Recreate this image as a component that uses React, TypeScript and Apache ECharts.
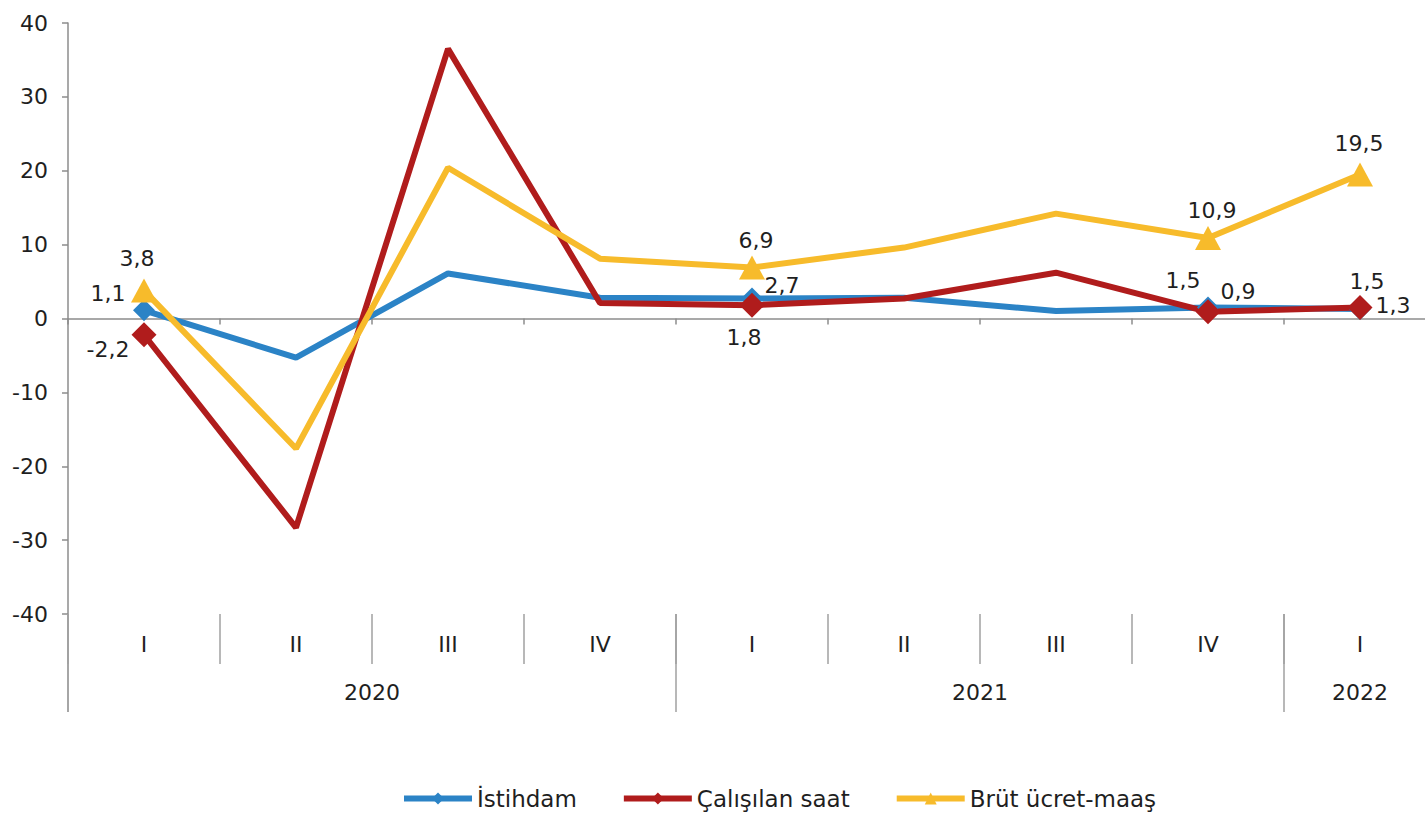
import React, { useEffect, useRef } from "react";
import * as echarts from "echarts";

const quarters = ["I", "II", "III", "IV", "I", "II", "III", "IV", "I"];
const yearLabels = ["2020", "2021", "2022"];
const yearCenters = [2, 6, 8.5];
const yearBounds = [0, 4, 8, 9];
const yTicks = { min: -40, max: 40, step: 10 };

const istihdam = [1.1, -5.3, 6.1, 2.8, 2.7, 2.8, 1.0, 1.5, 1.3];
const calisilanSaat = [-2.2, -28.3, 36.5, 2.1, 1.8, 2.7, 6.2, 0.9, 1.5];
const brutUcret = [3.8, -17.6, 20.4, 8.1, 6.9, 9.6, 14.2, 10.9, 19.5];

const labeledIdx = [0, 4, 7, 8];

const FONT = "DejaVu Sans";
const TXT = "#1f1f1f";

function buildData(values: number[], offsets: Record<number, [number, number]>, symbol: string, size: number | number[]) {
  return values.map((v, i) => {
    if (!labeledIdx.includes(i)) return { value: v, symbol: "none" };
    return {
      value: v,
      symbol,
      symbolSize: size,
      label: {
        show: true,
        position: "inside",
        offset: offsets[i],
        align: "center",
        verticalAlign: "middle",
        formatter: (p: any) => String(p.value).replace(".", ","),
        fontFamily: FONT,
        fontSize: 22,
        color: TXT,
      },
    };
  });
}

export default function App() {
  const ref = useRef<HTMLDivElement>(null);
  useEffect(() => {
    if (!ref.current) return;
    const chart = echarts.init(ref.current, undefined, { renderer: "svg" });
    const axisGrey = "#8c8c8c";
    chart.setOption({
      animation: false,
      backgroundColor: "#ffffff",
      grid: { left: 68, top: 23, width: 1368, height: 591, containLabel: false },
      legend: {
        left: 396,
        top: 782,
        itemWidth: 68,
        itemHeight: 15,
        itemGap: 44,
        lineStyle: { width: 6 },
        textStyle: { fontFamily: FONT, fontSize: 23, color: TXT },
        data: ["İstihdam", "Çalışılan saat", "Brüt ücret-maaş"],
      },
      xAxis: [
        {
          type: "category",
          data: quarters,
          boundaryGap: true,
          axisLine: { onZero: true, lineStyle: { color: axisGrey, width: 1.5 } },
          axisTick: { show: true, length: 6, lineStyle: { color: axisGrey, width: 1.5 } },
          axisLabel: { show: false },
        },
        {
          type: "category",
          data: quarters,
          position: "bottom",
          boundaryGap: true,
          axisLine: { show: false, onZero: false },
          axisTick: { show: true, length: 50, lineStyle: { color: "#a0a0a0", width: 1.5 } },
          axisLabel: { margin: 19, fontFamily: FONT, fontSize: 22, color: TXT },
        },
        {
          type: "value",
          min: 0,
          max: 9,
          position: "bottom",
          axisLine: { show: false, onZero: false },
          splitLine: { show: false },
          axisTick: { show: true, customValues: yearBounds, length: 98, lineStyle: { color: "#a0a0a0", width: 1.5 } },
          axisLabel: {
            customValues: yearCenters,
            margin: 67,
            fontFamily: FONT,
            fontSize: 22,
            color: TXT,
            formatter: (v: number) => {
              const k = yearCenters.indexOf(v);
              return k >= 0 ? yearLabels[k] : "";
            },
          },
        },
      ],
      yAxis: {
        type: "value",
        min: yTicks.min,
        max: yTicks.max,
        interval: yTicks.step,
        axisLine: { show: true, lineStyle: { color: axisGrey, width: 1.5 } },
        axisTick: { show: true, length: 6, lineStyle: { color: axisGrey, width: 1.5 } },
        splitLine: { show: false },
        axisLabel: { margin: 20, fontFamily: FONT, fontSize: 22, color: TXT },
      },
      graphic: [
        {
          type: "line",
          shape: { x1: 68, y1: 614, x2: 68, y2: 712 },
          style: { stroke: "#a0a0a0", lineWidth: 1.5 },
        },
      ],
      series: [
        {
          name: "İstihdam",
          type: "line",
          xAxisIndex: 0,
          color: "#2b83c6",
          lineStyle: { width: 6, color: "#2b83c6" },
          itemStyle: { color: "#2b83c6" },
          symbol: "diamond",
          symbolSize: 22,
          data: buildData(istihdam, { 0: [-36, -17], 4: [30, -13], 7: [-25, -27], 8: [33, -3] }, "diamond", [22, 22]),
        },
        {
          name: "Çalışılan saat",
          type: "line",
          xAxisIndex: 0,
          color: "#b01c1c",
          lineStyle: { width: 6, color: "#b01c1c" },
          itemStyle: { color: "#b01c1c" },
          symbol: "diamond",
          symbolSize: 24,
          data: buildData(calisilanSaat, { 0: [-36, 15], 4: [-8, 32], 7: [30, -20], 8: [7, -26] }, "diamond", [25, 25]),
        },
        {
          name: "Brüt ücret-maaş",
          type: "line",
          xAxisIndex: 0,
          color: "#f7bb2b",
          lineStyle: { width: 6, color: "#f7bb2b" },
          itemStyle: { color: "#f7bb2b" },
          symbol: "triangle",
          symbolSize: 26,
          data: buildData(brutUcret, { 0: [-7, -32], 4: [4, -27], 7: [4, -27], 8: [-1, -31] }, "triangle", [26, 24]),
        },
      ],
    });
    return () => chart.dispose();
  }, []);
  return (
    <div style={{ position: "absolute", left: 0, top: 0, width: 1425, height: 817, overflow: "hidden" }}>
      <div ref={ref} style={{ width: 1440, height: 817 }} />
    </div>
  );
}
